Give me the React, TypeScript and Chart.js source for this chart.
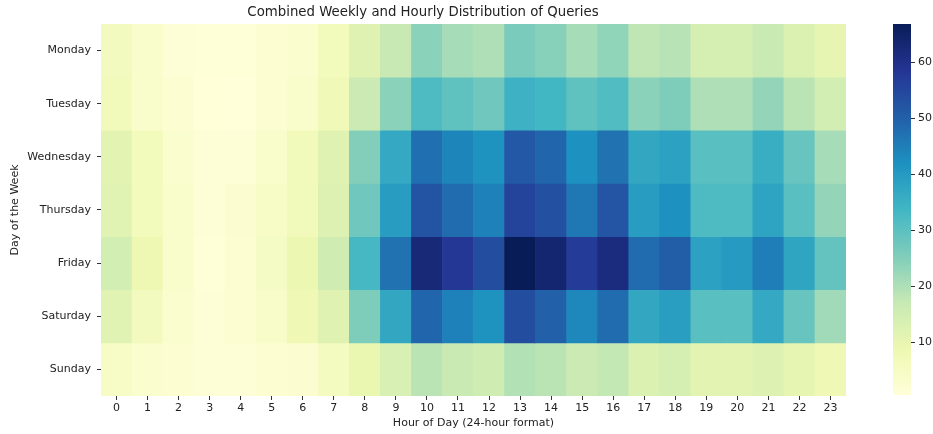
import { useEffect, useRef } from 'react';
import { Chart, registerables } from 'chart.js';

Chart.register(...registerables);

const days = ['Monday', 'Tuesday', 'Wednesday', 'Thursday', 'Friday', 'Saturday', 'Sunday'];
const hours = ['0', '1', '2', '3', '4', '5', '6', '7', '8', '9', '10', '11', '12', '13', '14', '15', '16', '17', '18', '19', '20', '21', '22', '23'];

const monday = [6, 3.5, 1.5, 1, 1, 2, 3, 6.5, 12, 17, 24, 21, 20, 26, 24.5, 21, 23.5, 18, 19, 14, 14, 16.5, 13, 10.5];
const tuesday = [7, 3.5, 2, 0.8, 0.6, 2, 3.5, 7.5, 16, 24, 32, 29.5, 27.5, 34.5, 33.5, 29.5, 31.5, 24, 25.5, 20, 20, 23, 18.5, 14.5];
const wednesday = [11, 6.5, 3, 1.5, 1.5, 3.5, 7, 12, 25, 36.5, 47.5, 44, 41.5, 51.5, 49, 42, 47, 37, 38.5, 30.5, 30.5, 35.5, 28.5, 21];
const thursday = [11.5, 6.5, 3.5, 1.5, 2.5, 4.5, 7, 12.5, 27.5, 39.5, 52.5, 48, 44.5, 55.5, 53, 46, 52, 39.5, 42, 32, 32, 38, 30.5, 23];
const friday = [14.5, 8.5, 3.5, 1, 2, 5, 9, 15.5, 33, 47, 62.5, 58, 53.5, 66.8, 63.5, 57, 61.5, 48, 50.5, 38.5, 40, 45, 37.5, 29];
const saturday = [11.5, 6, 3, 1.5, 2, 4, 8, 12, 25.5, 37, 49, 44.5, 41.5, 53.5, 50, 43.5, 48, 37, 39, 30.5, 30.5, 36.5, 28.5, 21.5];
const sunday = [4.5, 3, 2, 1.5, 1.5, 2, 2.5, 5.5, 9.5, 13.5, 18.5, 16.5, 15.5, 19.5, 18.5, 16, 17.5, 13, 14, 11, 11, 12.5, 10.5, 8];

const values = [monday, tuesday, wednesday, thursday, friday, saturday, sunday];
const colorbarTicks = [10, 20, 30, 40, 50, 60];

const TITLE = 'Combined Weekly and Hourly Distribution of Queries';
const X_TITLE = 'Hour of Day (24-hour format)';
const Y_TITLE = 'Day of the Week';

// YlGnBu colormap stops
const CMAP: [number, number, number][] = [
  [255, 255, 217], [237, 248, 177], [199, 233, 180], [127, 205, 187], [65, 182, 196],
  [29, 145, 192], [34, 94, 168], [37, 52, 148], [8, 29, 88],
];

const allVals = values.flat();
const vmin = Math.min(...allVals);
const vmax = Math.max(...allVals);

function cmap(t: number): string {
  const tt = Math.max(0, Math.min(1, t)) * (CMAP.length - 1);
  const i = Math.min(CMAP.length - 2, Math.floor(tt));
  const f = tt - i;
  const a = CMAP[i], b = CMAP[i + 1];
  const c = a.map((v, k) => Math.round(v + (b[k] - v) * f));
  return `rgb(${c[0]},${c[1]},${c[2]})`;
}
const colorFor = (v: number) => cmap((v - vmin) / (vmax - vmin));

const FONT = 'DejaVu Sans';
const TEXT = '#222';
const TICKC = '#333';

export default function App() {
  const mainRef = useRef<HTMLCanvasElement>(null);
  const cbRef = useRef<HTMLCanvasElement>(null);

  useEffect(() => {
    const tickFont = { family: FONT, size: 11 };
    const main = new Chart(mainRef.current!, {
      type: 'bar',
      data: {
        labels: hours,
        datasets: days.map((day, d) => ({
          label: day,
          data: values[d].map(() => [d - 0.5, d + 0.5]) as any,
          backgroundColor: values[d].map((v) => colorFor(v)),
          barPercentage: 1,
          categoryPercentage: 1,
          grouped: false,
          borderWidth: 0,
        })),
      },
      options: {
        responsive: false,
        animation: false,
        layout: { padding: { top: 0, right: 87, bottom: 0, left: 0 } },
        plugins: {
          legend: { display: false },
          tooltip: { enabled: false },
          title: {
            display: true,
            text: TITLE,
            color: TEXT,
            font: { family: FONT, size: 13.3, weight: 'normal' },
            padding: { top: 5, bottom: 3 },
          },
        },
        scales: {
          x: {
            type: 'category',
            offset: true,
            grid: { display: true, drawOnChartArea: false, drawTicks: true, tickLength: 4, offset: false, color: TICKC },
            border: { display: false },
            ticks: { font: tickFont, color: TEXT, padding: 2, maxRotation: 0, autoSkip: false },
            title: { display: true, text: X_TITLE, font: tickFont, color: TEXT, padding: { top: 0, bottom: 4 } },
            afterFit: (s: any) => { s.height = 38; },
          },
          y: {
            type: 'linear',
            reverse: true,
            min: -0.5,
            max: 6.5,
            afterBuildTicks: (s: any) => { s.ticks = days.map((_, i) => ({ value: i })); },
            ticks: { font: tickFont, color: TEXT, padding: 6, callback: (v: any) => days[v] ?? '' },
            grid: { display: true, drawOnChartArea: false, drawTicks: true, tickLength: 4, color: TICKC },
            border: { display: false },
            title: { display: true, text: Y_TITLE, font: tickFont, color: TEXT, padding: { top: 9, bottom: 0 } },
            afterFit: (s: any) => { s.width = 101; },
          },
        },
      } as any,
    });

    const cb = new Chart(cbRef.current!, {
      type: 'bar',
      data: {
        labels: [''],
        datasets: [{
          data: [[vmin, vmax]] as any,
          backgroundColor: (ctx: any) => {
            const ca = ctx.chart.chartArea;
            if (!ca) return cmap(0);
            const g = ctx.chart.ctx.createLinearGradient(0, ca.bottom, 0, ca.top);
            for (let i = 0; i <= 32; i++) g.addColorStop(i / 32, cmap(i / 32));
            return g;
          },
          barPercentage: 1,
          categoryPercentage: 1,
          borderWidth: 0,
        }],
      },
      options: {
        responsive: false,
        animation: false,
        layout: { padding: { left: 13, top: 24, bottom: 39, right: 0 } },
        plugins: { legend: { display: false }, tooltip: { enabled: false } },
        scales: {
          x: { display: false },
          y: {
            position: 'right',
            min: vmin,
            max: vmax,
            afterBuildTicks: (s: any) => { s.ticks = colorbarTicks.map((v) => ({ value: v })); },
            ticks: { font: tickFont, color: TEXT, padding: 3 },
            grid: { display: true, drawOnChartArea: false, drawTicks: true, tickLength: 4, color: TICKC },
            border: { display: false },
            afterFit: (s: any) => { s.width = 22; },
          },
        },
      } as any,
    });

    return () => { main.destroy(); cb.destroy(); };
  }, []);

  return (
    <div style={{ position: 'fixed', left: 0, top: 0, width: 933, height: 434, background: '#fff' }}>
      <canvas ref={mainRef} width={933} height={434} style={{ position: 'absolute', left: 0, top: 0, display: 'block' }} />
      <canvas ref={cbRef} width={53} height={434} style={{ position: 'absolute', left: 880, top: 0, display: 'block' }} />
    </div>
  );
}
